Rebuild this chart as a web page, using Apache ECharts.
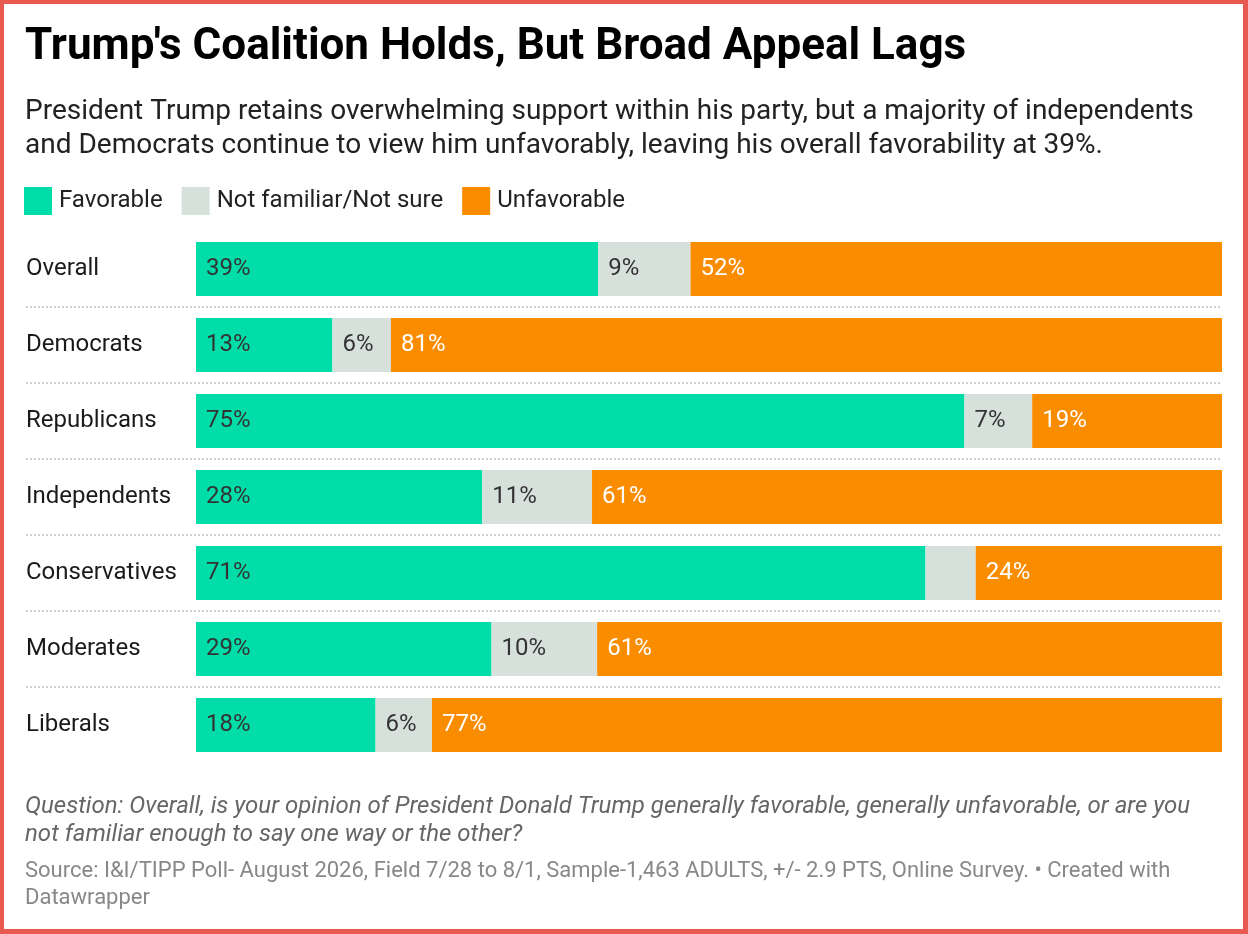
<!DOCTYPE html>
<html>
<head>
<meta charset="utf-8">
<title>Trump's Coalition Holds, But Broad Appeal Lags</title>
<script src="https://cdn.jsdelivr.net/npm/echarts@6/dist/echarts.min.js"></script>
<style>
    html, body { margin: 0; padding: 0; background: #fff; }
    #frame {
        position: relative;
        width: 1248px;
        height: 934px;
        box-sizing: border-box;
        border: 4px solid #e8594f;
        border-right-width: 5px;
        border-bottom-width: 5px;
    }
    #chartDom {
        position: absolute;
        left: -4px;
        top: -4px;
        width: 1248px;
        height: 934px;
    }
</style>
</head>
<body>
<div id="frame"><div id="chartDom"></div></div>
<script>
// groups, top to bottom
let groups = ['Overall', 'Democrats', 'Republicans', 'Independents', 'Conservatives', 'Moderates', 'Liberals'];
// shares in %
let favorable = [39.2, 13.3, 74.9, 27.9, 71.1, 28.8, 17.5];
let notSure = [9.0, 5.7, 6.6, 10.7, 4.9, 10.3, 5.5];
let unfavorable = [51.8, 81.0, 18.5, 61.4, 24.0, 60.9, 77.0];

let seriesNames = ['Favorable', 'Not familiar/Not sure', 'Unfavorable'];

window.onload = function () {
    let chartDom = document.getElementById('chartDom');
    let font = 'Roboto';

    function barLabel(color) {
        return {
            show: true,
            position: 'insideLeft',
            distance: 10,
            color: color,
            fontFamily: font,
            fontSize: 24,
            // too narrow to hold a label
            formatter: (p) => p.value < 5 ? '' : Math.round(p.value) + '%'
        };
    }

    function barSeries(name, data, color, labelColor) {
        return {
            name: name,
            type: 'bar',
            stack: 'total',
            xAxisIndex: 1,
            yAxisIndex: 1,
            barWidth: 54,
            data: data,
            itemStyle: { color: color },
            label: barLabel(labelColor),
            emphasis: { disabled: true }
        };
    }

    let option = {
        animation: false,
        textStyle: { fontFamily: font },
        title: [
            {
                text: "Trump's Coalition Holds, But Broad Appeal Lags",
                left: 25,
                top: 26,
                padding: 0,
                textStyle: { color: '#000', fontFamily: font, fontWeight: 'bold', fontSize: 44, lineHeight: 44 }
            },
            {
                text: 'President Trump retains overwhelming support within his party, but a majority of independents\n' +
                    'and Democrats continue to view him unfavorably, leaving his overall favorability at 39%.',
                left: 25,
                top: 95,
                padding: 0,
                textStyle: { color: '#222', fontFamily: font, fontWeight: 'normal', fontSize: 28, lineHeight: 34 }
            },
            {
                text: 'Question: Overall, is your opinion of President Donald Trump generally favorable, generally unfavorable, or are you\n' +
                    'not familiar enough to say one way or the other?',
                left: 25,
                top: 793,
                padding: 0,
                textStyle: { color: '#666', fontFamily: font, fontStyle: 'italic', fontWeight: 'normal', fontSize: 24, lineHeight: 28 }
            },
            {
                text: 'Source: I&I/TIPP Poll- August 2026, Field 7/28 to 8/1, Sample-1,463 ADULTS, +/- 2.9 PTS, Online Survey. \u2022 Created with\n' +
                    'Datawrapper',
                left: 25,
                top: 858,
                padding: 0,
                textStyle: { color: '#888', fontFamily: font, fontWeight: 'normal', fontSize: 22, lineHeight: 27 }
            }
        ],
        legend: {
            data: seriesNames,
            left: 24,
            top: 187,
            padding: 0,
            itemWidth: 28,
            itemHeight: 28,
            itemGap: 19,
            icon: 'rect',
            selectedMode: false,
            textStyle: { color: '#222', fontFamily: font, fontSize: 24, padding: [0, 0, 0, 2] }
        },
        grid: [
            // row labels and dotted separators, full width
            { left: 26, right: 26, top: 231, height: 532 },
            // the bars
            { left: 196, right: 26, top: 231, height: 532 }
        ],
        xAxis: [
            { gridIndex: 0, type: 'value', show: false },
            { gridIndex: 1, type: 'value', min: 0, max: 100, show: false }
        ],
        yAxis: [
            {
                gridIndex: 0,
                type: 'category',
                data: groups,
                inverse: true,
                axisLine: { show: false },
                axisTick: { show: false },
                axisLabel: {
                    inside: true,
                    margin: 0,
                    interval: 0,
                    color: '#1a1a1a',
                    fontFamily: font,
                    fontSize: 24
                },
                splitLine: {
                    show: true,
                    interval: 0,
                    showMinLine: false,
                    showMaxLine: false,
                    lineStyle: { color: '#d0d0d0', width: 2, type: [2, 2] }
                }
            },
            {
                gridIndex: 1,
                type: 'category',
                data: groups,
                inverse: true,
                show: false
            }
        ],
        series: [
            barSeries(seriesNames[0], favorable, '#00dda9', '#333'),
            barSeries(seriesNames[1], notSure, '#d7e1dc', '#333'),
            barSeries(seriesNames[2], unfavorable, '#fa8c00', '#fff')
        ]
    };

    let chart = echarts.init(chartDom, null, { renderer: 'canvas' });
    chart.setOption(option);
};
</script>
</body>
</html>
